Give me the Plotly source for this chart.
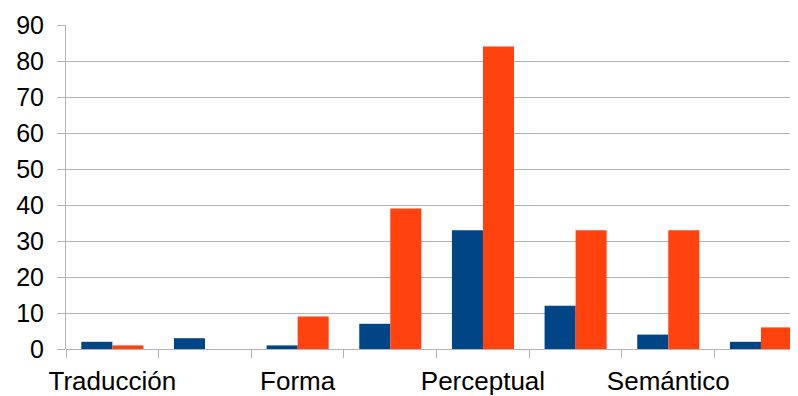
import plotly.graph_objects as go

categories = ["Traducción", "Cat 2", "Forma", "Cat 4", "Perceptual", "Cat 6", "Semántico", "Cat 8"]
shown_labels = ["Traducción", "", "Forma", "", "Perceptual", "", "Semántico", ""]
series_a = [2, 3, 1, 7, 33, 12, 4, 2]
series_b = [1, 0, 9, 39, 84, 33, 33, 6]
y_ticks = [0, 10, 20, 30, 40, 50, 60, 70, 80, 90]

x = list(range(len(categories)))
grey = "#b3b3b3"

fig = go.Figure()
fig.add_bar(x=x, y=series_a, name="Serie 1", marker=dict(color="#004586", line=dict(width=0)))
fig.add_bar(x=x, y=series_b, name="Serie 2", marker=dict(color="#ff420e", line=dict(width=0)))

fig.update_layout(
    width=790, height=388,
    margin=dict(l=58, r=0, t=17, b=47),
    paper_bgcolor="white", plot_bgcolor="white",
    barmode="group", bargap=0.33, bargroupgap=0,
    showlegend=False,
    font=dict(family="Liberation Sans, Arial, sans-serif", color="black"),
    xaxis=dict(
        range=[-0.5, 7.4],
        tickmode="array", tickvals=x, ticktext=shown_labels,
        ticks="outside", ticklen=0, showgrid=False, zeroline=False,
        showline=False, automargin=False,
        tickfont=dict(size=26),
        ticklabelstandoff=9,
        minor=dict(tickmode="linear", tick0=-0.5, dtick=1, ticks="outside",
                   ticklen=8, tickcolor=grey, tickwidth=1, showgrid=False),
        fixedrange=True,
    ),
    yaxis=dict(
        range=[0, 90],
        tickmode="array", tickvals=y_ticks,
        ticks="outside", ticklen=8, tickcolor=grey, tickwidth=1,
        showgrid=True, gridcolor=grey, gridwidth=1,
        showline=True, linecolor=grey, linewidth=1,
        zeroline=True, zerolinecolor=grey, zerolinewidth=1,
        tickfont=dict(size=25),
        ticklabelstandoff=8, automargin=False,
        fixedrange=True,
    ),
)

fig.write_html("out.html")
